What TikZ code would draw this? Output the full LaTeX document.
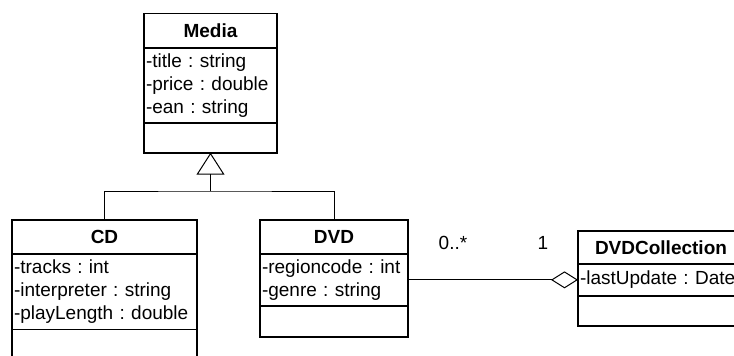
\documentclass[tikz,border=0pt]{standalone}
\usepackage{fontspec}
\setmainfont{Liberation Sans}
\usetikzlibrary{positioning,arrows.meta}
\newcommand\umlfont{\fontsize{19pt}{23pt}\selectfont\frenchspacing}
\tikzset{
  classtitle/.style={draw, line width=1.6pt, font=\umlfont\bfseries, minimum height=34pt, inner sep=0pt, outer sep=0pt, anchor=north west},
  classpart/.style={draw, line width=1.6pt, font=\umlfont, inner xsep=2pt, inner ysep=0pt, outer sep=0pt, align=left},
  mult/.style={font=\umlfont, inner sep=0pt},
  generalize/.style={-{Triangle[open,length=22pt,width=28pt]}, line width=1pt},
  aggregate/.style={-{Diamond[open,length=27pt,width=17pt]}, line width=1pt},
}
\begin{document}
\begin{tikzpicture}[x=1pt,y=-1pt]
  \path[use as bounding box, clip] (0,0) rectangle (734,356);
  % Media
  \node[classtitle, minimum width=133pt, minimum height=34.4pt] (media) at (144,13.3) {Media};
  \node[classpart, text width=129pt, minimum height=75pt, below=0pt of media] (media-attr) {-title : string\\-price : double\\-ean : string};
  \node[classpart, text width=129pt, minimum height=30pt, below=0pt of media-attr] (media-ops) {};
  % CD
  \node[classtitle, minimum width=185pt] (cd) at (12,220) {CD};
  \node[classpart, text width=181pt, minimum height=75.3pt, below=0pt of cd] (cd-attr) {-tracks : int\\-interpreter : string\\-playLength : double};
  \node[classpart, text width=181pt, minimum height=30pt, below=0pt of cd-attr] (cd-ops) {};
  % DVD
  \node[classtitle, minimum width=148pt] (dvd) at (260,220) {DVD};
  \node[classpart, text width=144pt, minimum height=52pt, below=0pt of dvd] (dvd-attr) {-regioncode : int\\-genre : string};
  \node[classpart, text width=144pt, minimum height=30.7pt, below=0pt of dvd-attr] (dvd-ops) {};
  % DVDCollection
  \node[classtitle, minimum width=166pt, minimum height=33.3pt] (coll) at (578,230.7) {DVDCollection};
  \node[classpart, text width=162pt, minimum height=31.7pt, below=0pt of coll] (coll-attr) {-lastUpdate : Date};
  \node[classpart, text width=162pt, minimum height=30.3pt, below=0pt of coll-attr] (coll-ops) {};
  % inheritance
  \coordinate (split) at (media-ops.south |- 0,191);
  \draw[generalize] (split) -- (media-ops.south);
  \draw[line width=1pt] (cd.north) |- (split) -| (dvd.north);
  % aggregation
  \draw[aggregate] (dvd-attr.east |- coll-attr.west) -- (coll-attr.west);
  \node[mult] (mult-many) at (453,243) {0..*};
  \node[mult] (mult-one) at (543,243) {1};
\end{tikzpicture}
\end{document}
